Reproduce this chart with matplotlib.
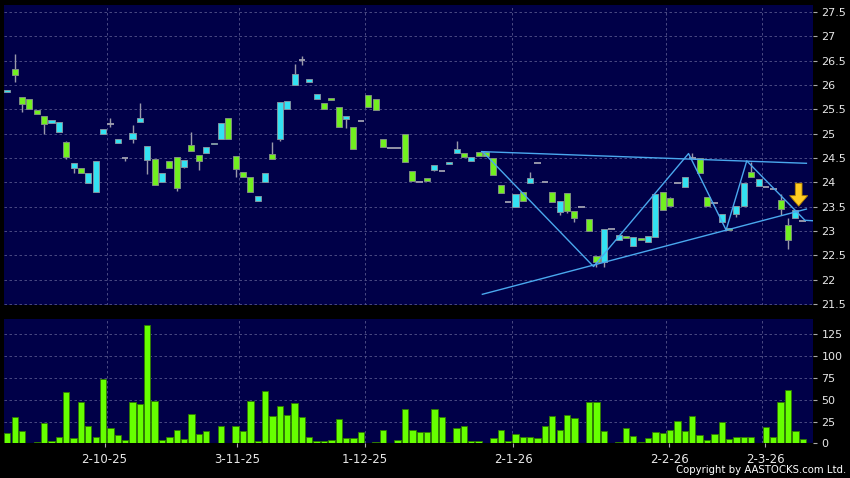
import numpy as np
import matplotlib
matplotlib.use('Agg')
import matplotlib.pyplot as plt

# daily bars, oldest first (prices in HKD, volume in arbitrary units)
opens = [25.86, 26.32, 25.76, 25.70, 25.48, 25.37, 25.22, 25.04, 24.82, 24.29,
         24.29, 23.98, 23.81, 25.00, 25.20, 24.81, 24.49, 24.88, 25.24, 24.45,
         24.48, 24.00, 24.43, 24.51, 24.32, 24.76, 24.57, 24.61, 24.78, 24.88,
         25.31, 24.55, 24.22, 24.11, 23.61, 24.01, 24.59, 24.89, 25.51, 26.00,
         26.52, 26.06, 25.71, 25.62, 25.74, 25.54, 25.30, 25.13, 25.25, 25.79,
         25.72, 24.89, 24.71, 24.71, 24.99, 24.24, 24.00, 24.08, 24.26, 24.24,
         24.37, 24.61, 24.61, 24.43, 24.63, 24.63, 24.50, 23.94, 23.59, 23.50,
         23.81, 23.98, 24.40, 24.00, 23.81, 23.40, 23.79, 23.42, 23.49, 23.24,
         22.48, 22.36, 23.05, 22.82, 22.90, 22.69, 22.86, 22.77, 22.87, 23.81,
         23.68, 23.98, 23.90, 24.49, 24.50, 23.70, 23.58, 23.19, 23.07, 23.34,
         23.52, 24.22, 23.92, 23.91, 23.87, 23.64, 23.13, 23.26, 23.21]
highs = [25.90, 26.63, 25.76, 25.70, 25.48, 25.37, 25.28, 25.23, 24.84, 24.39,
         24.29, 24.20, 24.43, 25.09, 25.31, 24.88, 24.49, 25.17, 25.63, 24.74,
         24.48, 24.20, 24.43, 24.51, 24.45, 25.03, 24.57, 24.72, 24.81, 25.21,
         25.31, 24.55, 24.22, 24.11, 23.72, 24.20, 24.83, 25.65, 25.67, 26.43,
         26.59, 26.13, 25.82, 25.62, 25.74, 25.54, 25.37, 25.13, 25.25, 25.79,
         25.72, 24.89, 24.71, 24.71, 25.00, 24.24, 24.00, 24.08, 24.35, 24.24,
         24.41, 24.85, 24.61, 24.51, 24.63, 24.63, 24.50, 23.94, 23.59, 23.75,
         23.81, 24.21, 24.40, 24.00, 23.81, 23.61, 23.79, 23.42, 23.49, 23.24,
         22.48, 23.05, 23.05, 22.92, 22.90, 22.87, 22.86, 22.90, 23.75, 23.81,
         23.70, 23.98, 24.10, 24.60, 24.50, 23.70, 23.58, 23.34, 23.07, 23.52,
         23.99, 24.41, 24.06, 23.91, 23.87, 23.75, 23.26, 23.44, 23.21]
lows = [25.86, 26.06, 25.45, 25.50, 25.41, 25.00, 25.22, 25.04, 24.47, 24.20,
        24.20, 23.98, 23.81, 25.00, 25.14, 24.81, 24.44, 24.81, 25.24, 24.16,
        23.94, 24.00, 24.29, 23.83, 24.30, 24.65, 24.25, 24.61, 24.78, 24.88,
        24.88, 24.11, 24.11, 23.81, 23.61, 24.01, 24.48, 24.85, 25.51, 26.00,
        26.41, 26.06, 25.71, 25.51, 25.68, 25.13, 25.12, 24.68, 25.25, 25.55,
        25.48, 24.73, 24.71, 24.71, 24.42, 24.03, 24.00, 24.02, 24.23, 24.24,
        24.37, 24.61, 24.51, 24.43, 24.53, 24.55, 24.14, 23.79, 23.59, 23.50,
        23.61, 23.98, 24.40, 24.00, 23.59, 23.33, 23.36, 23.19, 23.49, 22.99,
        22.27, 22.27, 23.05, 22.82, 22.85, 22.69, 22.81, 22.77, 22.87, 23.43,
        23.52, 23.98, 23.90, 24.49, 24.20, 23.52, 23.58, 23.19, 23.02, 23.28,
        23.52, 24.11, 23.92, 23.91, 23.87, 23.33, 22.64, 23.26, 23.21]
closes = [25.90, 26.21, 25.60, 25.50, 25.41, 25.19, 25.28, 25.23, 24.51, 24.39,
          24.20, 24.20, 24.43, 25.09, 25.20, 24.88, 24.49, 25.02, 25.33, 24.74,
          23.94, 24.20, 24.29, 23.89, 24.45, 24.65, 24.44, 24.72, 24.81, 25.21,
          24.88, 24.28, 24.11, 23.81, 23.72, 24.20, 24.48, 25.65, 25.67, 26.22,
          26.52, 26.13, 25.82, 25.51, 25.68, 25.13, 25.37, 24.68, 25.25, 25.55,
          25.48, 24.73, 24.71, 24.71, 24.42, 24.03, 24.00, 24.02, 24.35, 24.24,
          24.41, 24.68, 24.51, 24.51, 24.53, 24.55, 24.14, 23.79, 23.59, 23.75,
          23.61, 24.09, 24.40, 24.00, 23.59, 23.61, 23.42, 23.26, 23.49, 22.99,
          22.37, 23.05, 23.05, 22.92, 22.85, 22.87, 22.81, 22.90, 23.75, 23.43,
          23.52, 23.98, 24.10, 24.49, 24.20, 23.52, 23.58, 23.34, 23.02, 23.52,
          23.99, 24.11, 24.06, 23.91, 23.87, 23.45, 22.81, 23.44, 23.21]
volumes = [11.5, 30, 14, 1, 1.5, 23, 3, 7, 58.5, 6,
           47, 20, 8, 74, 18, 10, 3.5, 47, 45, 136,
           49, 3.5, 7.5, 15, 5, 34, 11, 14, 0.5, 19.5,
           0.5, 19.5, 14, 49, 3, 60, 32, 43, 32.5, 46,
           30, 7, 3, 3, 4, 28, 6, 6, 13, 1,
           1.5, 15, 1, 4, 40, 15, 12.6, 12.6, 40, 30,
           2, 18, 20, 3, 3, 1, 6.5, 16, 3, 11,
           7, 7.5, 6, 20, 32, 16, 33, 29, 0, 47.5,
           48, 14, 0, 2, 18, 8.5, 2, 6, 12.6, 12,
           15, 25.6, 14, 31, 9.5, 4, 11, 24.5, 5, 8,
           7, 7, 0, 19, 7.3, 47.5, 61, 14, 5.7]

date_labels = ['2-10-25', '3-11-25', '1-12-25', '2-1-26', '2-2-26', '2-3-26']
date_ticks = [13.2, 31.2, 48.5, 68.7, 89.9, 102.9]
date_grid = [13.5, 31.5, 48.5, 68.5, 89.5, 102.5]

# hand drawn pattern lines (bar index, price)
upper_line = [(64.4, 24.63), (108.5, 24.39)]
lower_line = [(64.5, 21.70), (108.5, 23.45)]
zigzag = [(64.6, 24.62), (79.6, 22.27), (92.5, 24.59), (97.6, 23.02),
          (100.4, 24.44), (108.3, 23.22), (109.4, 23.21)]
arrow_at = (107.45, 23.98, 23.51)

bg = '#000048'
green = '#72f020'
cyan = '#33e2f2'
gridc = '#56568c'
txt = '#e8e8e8'

o = np.array(opens)
h = np.array(highs)
l = np.array(lows)
c = np.array(closes)
x = np.arange(len(o))

fig = plt.figure(figsize=(8.5, 4.78), dpi=100, facecolor='black')
ax = fig.add_axes([0.0047, 0.3619, 0.9518, 0.6276], facecolor=bg)
axv = fig.add_axes([0.0047, 0.0722, 0.9518, 0.2604], facecolor=bg)

# candles
up = c > o
dn = c < o
flat = c == o
ax.vlines(x, l, h, color='#9a9aaa', lw=1, zorder=2)
ax.bar(x[up], (c - o)[up], bottom=o[up], width=0.82, color=cyan,
       edgecolor='#7f93a0', lw=0.7, zorder=3)
ax.bar(x[dn], (o - c)[dn], bottom=c[dn], width=0.82, color=green,
       edgecolor='#7f8f80', lw=0.7, zorder=3)
ax.hlines(c[flat], x[flat] - 0.45, x[flat] + 0.45, color='#a0a0b0', lw=1.3, zorder=3)

for pts in (upper_line, lower_line, zigzag):
    px, py = zip(*pts)
    ax.plot(px, py, color='#4aa8ee', lw=1, zorder=4)

ax.annotate('', xy=(arrow_at[0], arrow_at[2]), xytext=(arrow_at[0], arrow_at[1]),
            arrowprops=dict(arrowstyle='simple,head_length=0.42,head_width=0.72,tail_width=0.27',
                            mutation_scale=18, fc='#ffcc22', ec='#b08000', lw=0.6,
                            shrinkA=0, shrinkB=0),
            zorder=5)

# volume
axv.bar(x, volumes, width=0.86, color='#66ff00', edgecolor='#2f7a00', lw=0.6, zorder=3)

for a in (ax, axv):
    a.set_xlim(-0.45, 109.4)
    for g in date_grid:
        a.axvline(g, color=gridc, lw=0.6, ls=(0, (3, 3)), zorder=1)
    a.grid(axis='y', color=gridc, lw=0.6, ls=(0, (3, 3)), zorder=1)
    a.set_axisbelow(True)
    for s in a.spines.values():
        s.set_visible(False)
    a.yaxis.tick_right()
    a.tick_params(axis='y', colors='#aaaaaa', labelcolor=txt, labelsize=8, length=3, pad=3)

ax.set_ylim(21.48, 27.64)
ax.set_yticks(np.arange(21.5, 27.51, 0.5))
ax.set_yticklabels(['%g' % v for v in np.arange(21.5, 27.51, 0.5)])
ax.set_xticks([])

axv.set_ylim(0, 142.5)
axv.set_yticks([0, 25, 50, 75, 100, 125])
axv.set_xticks(date_ticks)
axv.set_xticklabels(date_labels)
axv.tick_params(axis='x', colors='#aaaaaa', labelcolor=txt, labelsize=8.5, length=3, pad=4)

fig.text(0.995, 0.006, 'Copyright by AASTOCKS.com Ltd.', ha='right', va='bottom',
         color='white', fontsize=7.3)

plt.savefig('out.png', dpi=100, facecolor='black')
